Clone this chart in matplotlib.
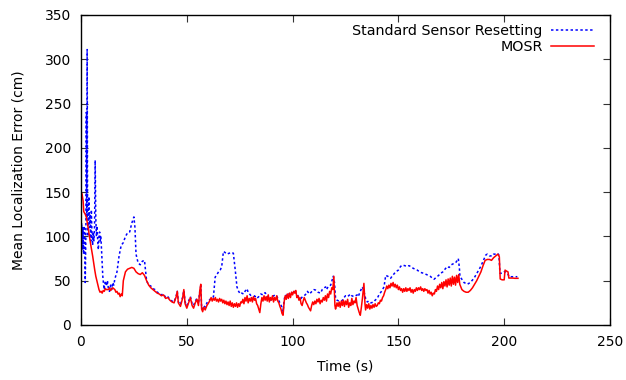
import matplotlib
matplotlib.use('Agg')
import matplotlib.pyplot as plt

# Standard Sensor Resetting (tiempo en s, error en cm)
ssr_t = [0, 0.3, 0.6, 0.9, 1.2, 1.5, 1.8, 2.0, 2.3, 2.5, 2.7, 2.9, 3.1, 3.4, 3.7, 4.0, 4.3, 4.6, 4.9, 5.2,
         5.5, 5.8, 6.1, 6.4, 6.7, 7.0, 7.3, 7.6, 7.9, 8.2, 8.5, 8.8, 9.1, 9.4, 9.7, 10.0, 10.3, 10.7, 11.0, 11.5,
         12.0, 12.5, 13.0, 13.5, 14, 14.5, 15, 15.5, 16, 17, 18, 19, 20, 21, 22, 23, 24, 25, 25.5, 26,
         26.5, 27, 28, 29, 30, 30.5, 31, 32, 33, 34, 35, 36, 37, 38, 39, 40, 41, 42, 43, 44,
         45, 45.5, 46, 47, 48, 48.6, 49.2, 50, 51, 51.7, 52.5, 53.2, 54, 54.8, 55.5, 56.2, 56.6, 57, 57.5, 58,
         58.7, 59.5, 60.3, 61, 62, 62.6, 63.4, 64, 65, 65.8, 66.5, 67.3, 68, 68.9, 70, 71.3, 72, 72.9, 73.7, 74.5,
         75.3, 76, 76.8, 77.5, 78.4, 79, 80, 81, 81.5, 82, 83.1, 84, 85, 86, 87, 88, 89, 89.4, 90, 91,
         92, 92.5, 93, 94, 95, 95.5, 96, 96.5, 97, 98, 99, 100, 101, 102, 103, 104, 105, 106, 107, 108,
         109, 110, 110.8, 112, 113.2, 114, 115, 115.6, 116, 117, 118, 118.6, 119.2, 119.8, 120.3, 121, 122, 123.4, 124, 125,
         126, 127.4, 128, 129, 130.5, 131, 132, 132.9, 133.5, 134.5, 135.3, 136, 137, 138.4, 139, 140, 140.8, 142, 143.2, 144,
         145, 146.3, 147, 148, 148.7, 150, 151, 151.8, 153, 154, 155, 155.8, 157, 158.9, 160, 161, 162, 163.7, 165, 166.8,
         168, 169, 170, 171, 172, 173.1, 174, 175, 176.3, 177, 178.3, 178.8, 179.1, 180.2, 181, 182.6, 184, 185.7, 187, 188.9,
         190, 191.3, 192, 193, 194.4, 195, 196, 196.8, 197.5, 198, 199.1, 200, 200.7, 201.5, 202.3, 206.2]
ssr_err = [90, 115, 85, 110, 80, 112, 95, 48, 100, 240, 120, 311, 140, 100, 145, 110, 125, 95, 130, 100,
           90, 105, 95, 110, 186, 120, 100, 112, 95, 85, 100, 105, 95, 100, 85, 70, 55, 45, 40, 50,
           44, 50, 40, 38, 45, 40, 48, 45, 52, 60, 78, 90, 93, 100, 104, 105, 115, 122, 110, 80,
           75, 70, 68, 72, 73, 62, 50, 45, 44, 41, 40, 37, 36, 34, 35, 31, 32, 29, 27, 26,
           33, 38, 26, 23, 31, 39, 26, 22, 28, 32, 24, 22, 27, 30, 24, 40, 44, 20, 18, 22,
           20, 25, 27, 29, 30, 32, 54, 56, 60, 62, 66, 83, 82, 80, 81, 82, 81, 62, 43, 38,
           35, 36, 35, 38, 41, 37, 34, 31, 29, 33, 30, 32, 35, 34, 36.5, 33, 30, 28, 31, 33,
           34, 32.7, 30, 25, 20, 15, 28, 34, 33, 36, 33, 38, 38, 35, 31, 30, 33, 34, 38, 35,
           37.6, 40, 39.5, 37, 36, 40, 42, 43, 40, 44, 45, 50, 55, 48, 30, 28, 27, 27.5, 30, 33,
           32, 35, 33, 32, 34, 32, 38, 43, 40, 30, 26, 27, 25, 26, 28, 30, 34, 38, 43, 56,
           55, 52.7, 55, 58, 60, 62, 66, 67.7, 67, 66, 67, 66, 64, 62, 60, 59, 58.4, 56.5, 55, 51.6,
           54, 56, 58.4, 60, 63, 66, 65, 68, 69.6, 70, 75, 65, 54.5, 51, 48, 46, 48, 52.7, 58, 66,
           72, 79, 80, 78, 78, 80, 80, 81, 79, 58.4, 58.4, 60, 60, 59, 54.5, 54.5]

# MOSR, por tramos
mosr_t_a = [0, 0.5, 1.0, 1.3, 2.0, 2.5, 3.0, 3.5, 4.0, 4.5, 5.0, 5.5, 6.0, 6.5, 7.0, 7.5, 8.0, 8.5, 9.0, 9.5,
            10, 10.5, 11, 11.5, 12, 13, 13.5, 14, 15, 16, 16.5, 17, 17.5, 18, 18.5, 19, 19.5, 20, 20.5, 21,
            22, 23, 24, 25, 26, 27, 28, 29, 30, 31, 32, 33, 34, 35, 36, 37, 38, 39, 40, 41,
            42, 43, 44, 45, 45.5, 46, 47, 48, 48.6, 49.2, 50, 51, 51.7, 52.5, 53.2, 54, 54.8, 55.5, 56.2, 56.6,
            57.0, 57.5, 58, 58.7, 59.5, 60.3]
mosr_err_a = [150, 148, 140, 128, 125, 122, 115, 108, 100, 92, 85, 78, 70, 62, 55, 50, 45, 40, 37, 38,
              36, 39, 38, 41, 40, 40, 42, 39, 42, 40, 37, 38, 35, 36, 32, 35, 33, 50, 55, 60,
              63, 64, 65, 64, 60, 58, 57, 59, 56, 50, 45, 42, 40, 38, 36, 35, 33, 34, 30, 31,
              28, 26, 25, 32, 38, 25, 21, 30, 40, 24, 19, 26, 31, 22, 19, 25, 29, 22, 40, 46,
              18, 15, 20, 17, 22, 25]

mosr_t_b = [61, 61.5, 62, 62.5, 63, 63.5, 64, 64.5, 65, 65.5, 66, 66.5, 67, 67.5, 68, 68.5, 69, 69.5, 70, 70.5,
            71, 71.5, 72, 72.5, 73, 73.5, 74, 74.5, 75, 75.5, 76, 76.5, 77, 77.5, 78, 78.5, 79, 79.5, 80, 80.5,
            81, 81.5, 82, 82.5, 83, 83.5, 84, 84.5, 85, 85.5, 86, 86.5, 87, 87.5, 88, 88.5, 89, 89.5, 90, 90.5,
            91, 91.5, 92, 92.5, 93, 93.5, 94, 94.5, 95, 95.5, 96, 96.5, 97, 97.5, 98, 98.5, 99, 99.5]
mosr_err_b = [28, 31, 27, 30, 28, 31, 27, 29, 26, 30, 27, 29, 25, 28, 24, 27, 23, 26, 22, 27,
              21, 25, 20, 24, 21, 25, 20, 24, 21, 26, 25, 29, 24, 31, 27, 33, 25, 30, 27, 31,
              26, 32, 28, 30, 24, 22, 18, 14, 24, 31, 27, 33, 28, 32, 27, 34, 26, 31, 28, 33,
              26, 31, 28, 33, 27, 25, 21, 18, 13, 11, 26, 33, 29, 35, 30, 36, 31, 37]

mosr_t_c = [100, 100.5, 101, 101.5, 102, 102.5, 103, 103.5, 104, 104.5, 105, 105.5, 106, 106.5, 107, 107.5, 108, 108.5, 109, 109.5,
            110, 110.5, 111, 111.5, 112, 112.5, 113, 113.5, 114, 114.5, 115, 115.5, 116, 116.5, 117, 117.5, 118, 118.5, 119, 119.5,
            120, 120.3, 121, 121.5, 122, 122.5, 123, 123.5, 124, 124.5, 125, 125.5, 126, 126.5, 127, 127.5, 128, 128.5, 129, 129.5,
            130, 130.5, 131, 131.5, 132, 132.5, 133, 133.7, 134.2, 134.5, 135, 135.5, 136, 136.5, 137, 137.5, 138, 138.5, 139, 139.5]
mosr_err_c = [34, 38, 36, 39, 31, 33, 28, 31, 24, 22, 27, 31, 28, 25, 23, 20, 18, 16, 22, 26,
              23, 27, 24, 29, 26, 30, 24, 28, 26, 31, 28, 33, 27, 35, 31, 38, 35, 42, 40, 55,
              22, 18, 25, 21, 26, 20, 27, 22, 28, 21, 27, 23, 29, 20, 25, 22, 30, 23, 27, 25,
              31, 22, 18, 14, 11, 20, 30, 47, 24, 17, 23, 19, 24, 18, 22, 19, 23, 20, 24, 21]

mosr_t_d = [140, 140.5, 141, 141.5, 142, 142.5, 143, 143.5, 144, 144.5, 145, 145.5, 146, 146.5, 147, 147.5, 148, 148.5, 149, 149.5,
            150, 150.5, 151, 151.5, 152, 152.5, 153, 153.5, 154, 154.5, 155, 155.5, 156, 156.5, 157, 157.5, 158, 158.5, 159, 159.5,
            160, 160.5, 161, 161.5, 162, 162.5, 163, 163.5, 164, 164.5, 165, 165.5, 166, 166.5, 167, 167.5, 168, 168.5, 169, 169.5,
            170, 170.5, 171, 171.5, 172, 172.5, 173, 173.5, 174, 174.5, 175, 175.5, 176, 176.5, 177, 177.5, 178, 178.5, 179, 179.5]
mosr_err_d = [22, 25, 24, 28, 27, 31, 33, 37, 40, 44, 41, 45, 42, 47, 44, 48, 43, 46, 42, 45,
              40, 43, 39, 41, 37, 41, 38, 42, 38, 41, 39, 42, 37, 40, 36, 40, 38, 42, 39, 42,
              40, 43, 39, 41, 38, 41, 39, 40, 36, 39, 35, 37, 33, 36, 35, 40, 38, 44, 40, 46,
              42, 48, 41, 49, 44, 51, 43, 52, 45, 53, 44, 55, 46, 54, 45, 56, 48, 57, 46, 43]

mosr_t_e = [180, 181, 182, 183, 184, 185, 186, 187, 188, 189, 190, 191, 192, 193, 194, 195, 196, 197, 197.7, 198.1,
            199, 200, 200.4, 201, 201.8, 202.2, 203, 204, 205, 206.5]
mosr_err_e = [40, 38, 37, 37, 39, 42, 46, 50, 55, 60, 67, 73, 74, 74, 73, 76, 78, 80, 77, 52,
              51, 51, 62, 61, 60, 53, 53, 53, 52.7, 52.7]

mosr_t = mosr_t_a + mosr_t_b + mosr_t_c + mosr_t_d + mosr_t_e
mosr_err = mosr_err_a + mosr_err_b + mosr_err_c + mosr_err_d + mosr_err_e

plt.rcParams['font.family'] = 'DejaVu Sans'
plt.rcParams['font.size'] = 10

fig = plt.figure(figsize=(6.26, 3.8), dpi=100)
ax = fig.add_axes([81/626, 55/380, 529/626, 310/380])

ax.plot(ssr_t, ssr_err, color='#0000ff', lw=1.1, dashes=(1.6, 1.6), label='Standard Sensor Resetting')
ax.plot(mosr_t, mosr_err, color='#ff0000', lw=1.1, label='MOSR')

ax.set_xlim(0, 250)
ax.set_ylim(0, 350)
ax.set_xticks([0, 50, 100, 150, 200, 250])
ax.set_yticks([0, 50, 100, 150, 200, 250, 300, 350])
ax.tick_params(direction='in', length=5, width=0.8, top=True, right=True, colors='#333333', labelcolor='black')
ax.tick_params(axis='x', pad=7)
ax.tick_params(axis='y', pad=7)
for s in ax.spines.values():
    s.set_linewidth(1.0)

ax.set_xlabel('Time (s)', labelpad=8)
ax.set_ylabel('Mean Localization Error (cm)', labelpad=14)

ax.legend(loc='upper right', bbox_to_anchor=(0.97, 0.972), frameon=False, markerfirst=False, fontsize=10.3,
          handlelength=3.0, handletextpad=0.6, labelspacing=0.15, borderpad=0, borderaxespad=0)

plt.savefig('out.png', dpi=100)
